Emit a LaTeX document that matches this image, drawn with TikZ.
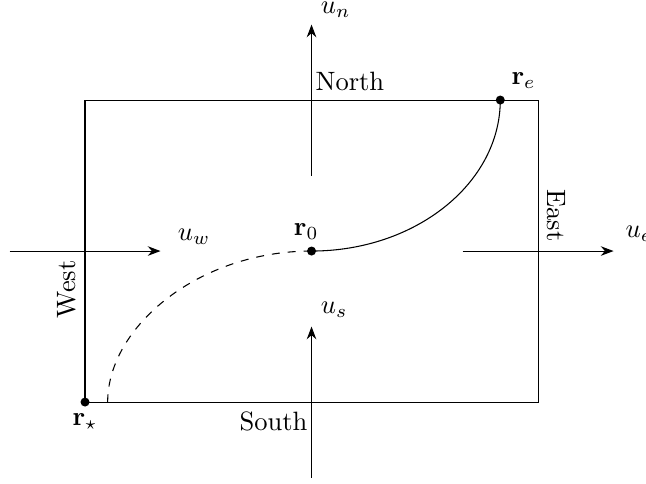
\documentclass[tikz,border=0pt]{standalone}
\usepackage{tikz}
\usepackage{amsmath}
\usepackage{amssymb}
\usetikzlibrary{arrows.meta, positioning, calc}
\tikzset{
  dot/.style={circle, fill=black, inner sep=0pt, minimum size=3.4pt},
  flux/.style={-{Stealth}},
  path/.style={line width=0.4pt},
  trail/.style={dashed, line width=0.4pt},
}

\begin{document}
\begin{tikzpicture}
  \useasboundingbox (-1.126,-1.073) rectangle (7.43,5.325);
  % cell boundary
  \draw (0,0) rectangle (6,4);
  % points
  \node[dot] (r0) at (3,2) {};
  \node[dot] (re) at (5.5,4) {};
  \node[dot] (rs) at (0,0) {};
  \coordinate (rsend) at (0.3,0);
  \node[above=1pt, xshift=-2pt] at (r0) {$\mathbf{r}_0$};
  \node[above right=1pt] at (re) {$\mathbf{r}_e$};
  \node[below=1pt] at (rs) {$\mathbf{r}_\star$};
  % fluxes
  \coordinate (nA) at (3,3);   \coordinate (nB) at (3,5);
  \coordinate (sA) at (3,-1);  \coordinate (sB) at (3,1);
  \coordinate (wA) at (-1,2);  \coordinate (wB) at (1,2);
  \coordinate (eA) at (5,2);   \coordinate (eB) at (7,2);
  \draw[flux] (nA) -- (nB) node[above right=-1pt and 0pt] {$u_n$};
  \draw[flux] (sA) -- (sB) node[above right] {$u_s$};
  \draw[flux] (wA) -- (wB) node[above right=-1pt and 3pt] {$u_w$};
  \draw[flux] (eA) -- (eB) node[above right=0pt and 1pt] {$u_e$};
  % faces
  \node[above right=0pt and -2pt] at (3,4) {North};
  \node[below left=0pt and -2pt] at (3,0) {South};
  \node[rotate=90, anchor=south east] at (0,2) {West};
  \node[rotate=-90, anchor=south east] at (6,2) {East};
  % trajectory
  \draw[path] (r0.center) .. controls +(1.38,0) and +(0,-1.1) .. (re.center);
  \draw[trail] (r0.center) .. controls +(-1.49,0) and +(0,1.0) .. (rsend);
\end{tikzpicture}
\end{document}
